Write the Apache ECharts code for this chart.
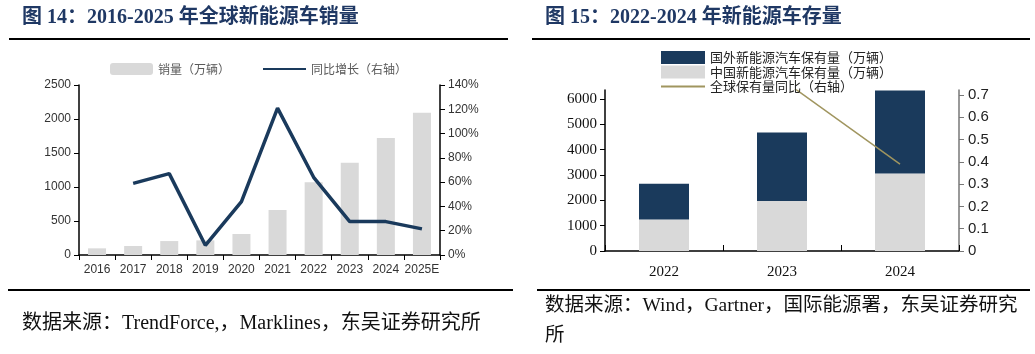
<!DOCTYPE html>
<html><head><meta charset="utf-8">
<script src="https://cdn.jsdelivr.net/npm/echarts@6/dist/echarts.min.js"></script>
<style>html,body{margin:0;padding:0;background:#fff}#c{width:1035px;height:354px}</style>
</head><body><div id="c"></div>
<script>
// Chart 14: global NEV sales
const years1 = ['2016','2017','2018','2019','2020','2021','2022','2023','2024','2025E'];
const sales = [98, 132, 205, 215, 309, 662, 1069, 1357, 1720, 2093];
const yoy = [null, 59, 67, 8, 44, 121, 64, 27.5, 27.5, 21.5];
// Chart 15: NEV stock
const years2 = ['2022','2023','2024'];
const chinaStock = [1240, 1970, 3060];
const foreignStock = [1410, 2700, 3270];
const stockGrowth = [null, 0.77, 0.39];
const leftTicks2 = [0,1000,2000,3000,4000,5000,6000];
const rightTicks2 = [0,0.1,0.2,0.3,0.4,0.5,0.6,0.7];

const navy = '#1a3a5c';
const grey = '#d9d9d9';
const olive = '#a0955f';
const cjk = '"Noto Sans CJK SC"';
const serifMix = '"Liberation Serif", "Noto Sans CJK SC"';
const plain = v => String(v);

const chart = echarts.init(document.getElementById('c'), null, {renderer:'canvas'});
chart.setOption({
  animation:false,
  backgroundColor:'#fff',
  graphic:[
    {type:'text', left:22, top:8, style:{text:'图 14：2016-2025 年全球新能源车销量', font:'bold 20px '+serifMix, fill:'#1f3864'}},
    {type:'text', left:545, top:8, style:{text:'图 15：2022-2024 年新能源车存量', font:'bold 20px '+serifMix, fill:'#1f3864'}},
    {type:'rect', shape:{x:9, y:38, width:499, height:2}, style:{fill:'#000'}},
    {type:'rect', shape:{x:532, y:38, width:498, height:2}, style:{fill:'#000'}},
    {type:'rect', shape:{x:8, y:289, width:505, height:2}, style:{fill:'#000'}},
    {type:'rect', shape:{x:537, y:289, width:493, height:2}, style:{fill:'#000'}},
    {type:'text', left:22, top:314, style:{text:'数据来源：TrendForce,，Marklines，东吴证券研究所', font:'20px '+serifMix, fill:'#111'}},
    {type:'text', left:545, top:296, style:{text:'数据来源：Wind，Gartner，国际能源署，东吴证券研究', font:'19.5px '+serifMix, fill:'#111'}},
    {type:'text', left:545, top:326, style:{text:'所', font:'19.5px '+serifMix, fill:'#111'}}
  ],
  legend:[
    {left:105, top:58, itemWidth:43, itemHeight:12, itemGap:32,
     textStyle:{fontFamily:cjk, fontSize:12, color:'#595959'},
     data:[{name:'销量（万辆）', icon:'roundRect'}, {name:'同比增长（右轴）'}]},
    {left:655, top:46, orient:'vertical', itemWidth:44, itemHeight:13, itemGap:1.5,
     textStyle:{fontFamily:cjk, fontSize:13, color:'#222'},
     data:[{name:'国外新能源汽车保有量（万辆）', icon:'rect'}, {name:'中国新能源汽车保有量（万辆）', icon:'rect'}, {name:'全球保有量同比（右轴）'}]}
  ],
  grid:[
    {left:79, right:595, top:85, bottom:99},
    {left:605, right:76, top:90, bottom:103}
  ],
  xAxis:[
    {type:'category', gridIndex:0, data:years1,
     axisLine:{lineStyle:{color:'#000', width:1.5}},
     axisTick:{show:true, interval:0, length:5, lineStyle:{color:'#000'}},
     axisLabel:{interval:0, fontFamily:'Liberation Sans', fontSize:12, color:'#333', margin:9}},
    {type:'category', gridIndex:1, data:years2,
     axisLine:{lineStyle:{color:'#000', width:1.5}},
     axisTick:{show:true, interval:0, inside:true, length:6, lineStyle:{color:'#000'}},
     axisLabel:{interval:0, fontFamily:'Liberation Serif', fontSize:15, color:'#111', margin:14}}
  ],
  yAxis:[
    {type:'value', gridIndex:0, min:0, max:2500, interval:500,
     axisLine:{show:true, lineStyle:{color:'#000', width:1.5}},
     axisTick:{show:true, length:5, lineStyle:{color:'#000'}},
     splitLine:{show:false},
     axisLabel:{fontFamily:'Liberation Sans', fontSize:12, color:'#333', margin:8, formatter:plain}},
    {type:'value', gridIndex:0, min:0, max:140, interval:20, position:'right',
     axisLine:{show:true, lineStyle:{color:'#000', width:1.5}},
     axisTick:{show:true, length:5, lineStyle:{color:'#000'}},
     splitLine:{show:false},
     axisLabel:{fontFamily:'Liberation Sans', fontSize:12, color:'#333', margin:8, formatter:'{value}%'}},
    {type:'value', gridIndex:1, min:0, max:6350,
     axisLine:{show:true, lineStyle:{color:'#000', width:1.5}},
     axisTick:{show:true, length:5, lineStyle:{color:'#000'}, customValues:leftTicks2},
     splitLine:{show:false},
     axisLabel:{fontFamily:'Liberation Serif', fontSize:15, color:'#111', margin:8, customValues:leftTicks2, formatter:plain}},
    {type:'value', gridIndex:1, min:0, max:0.7226, position:'right',
     axisLine:{show:true, lineStyle:{color:'#777', width:1.5}},
     axisTick:{show:true, length:5, lineStyle:{color:'#777'}, customValues:rightTicks2},
     splitLine:{show:false},
     axisLabel:{fontFamily:'Liberation Sans', fontSize:15, color:'#222', margin:9, customValues:rightTicks2,
       formatter:v => v === 0 ? '0' : v.toFixed(1)}}
  ],
  series:[
    {name:'销量（万辆）', type:'bar', xAxisIndex:0, yAxisIndex:0, data:sales, barWidth:18,
     itemStyle:{color:grey}},
    {name:'同比增长（右轴）', type:'line', xAxisIndex:0, yAxisIndex:1, data:yoy, symbol:'none',
     lineStyle:{color:navy, width:3.5}, itemStyle:{color:'rgba(0,0,0,0)'}},
    {name:'中国新能源汽车保有量（万辆）', type:'bar', xAxisIndex:1, yAxisIndex:2, stack:'s', data:chinaStock, barWidth:50,
     itemStyle:{color:grey}},
    {name:'国外新能源汽车保有量（万辆）', type:'bar', xAxisIndex:1, yAxisIndex:2, stack:'s', data:foreignStock, barWidth:50,
     itemStyle:{color:navy}},
    {name:'全球保有量同比（右轴）', type:'line', xAxisIndex:1, yAxisIndex:3, data:stockGrowth, symbol:'none',
     lineStyle:{color:olive, width:1.5}, itemStyle:{color:'rgba(0,0,0,0)'}}
  ]
});
</script></body></html>
